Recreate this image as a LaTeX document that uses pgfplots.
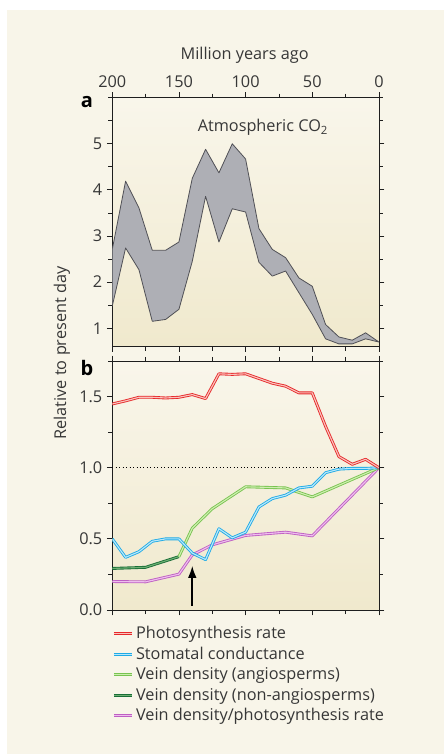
\documentclass[border=0pt]{standalone}
\usepackage{pgfplots}
\pgfplotsset{compat=1.18}
\usepackage{fontspec}
\setmainfont{Open Sans}
\usetikzlibrary{arrows.meta}

\definecolor{cream}{RGB}{248,245,233}
\definecolor{bgtop}{RGB}{249,246,235}
\definecolor{bgbot}{RGB}{240,233,205}
\definecolor{textc}{RGB}{55,55,55}
\definecolor{axisc}{RGB}{30,30,30}
\definecolor{co2fill}{RGB}{174,175,181}
\definecolor{co2edge}{RGB}{80,80,86}
\definecolor{redo}{RGB}{230,40,42}
\definecolor{redi}{RGB}{250,195,188}
\definecolor{blueo}{RGB}{30,170,230}
\definecolor{bluei}{RGB}{185,232,250}
\definecolor{lgreeno}{RGB}{120,195,80}
\definecolor{lgreeni}{RGB}{205,238,175}
\definecolor{dgreeno}{RGB}{25,110,55}
\definecolor{dgreeni}{RGB}{110,175,115}
\definecolor{pinko}{RGB}{190,95,195}
\definecolor{pinki}{RGB}{238,190,238}

\newcommand{\lfont}{\fontsize{12.2}{14.4}\selectfont}

\pgfplotsset{
  dbl/.style 2 args={draw=#1, double=#2, line width=0.65pt, double distance=0.85pt, line join=round, no marks},
  panel/.style={
    scale only axis, width=200pt, height=186.75pt,
    anchor=south west,
    xmin=0, xmax=200, x dir=reverse,
    xtick={0,50,100,150,200},
    minor xtick={25,75,125,175},
    tick align=outside,
    major tick length=4pt, minor tick length=3pt,
    axis line style={line width=0.6pt, draw=axisc},
    tick style={line width=0.6pt, draw=axisc},
    tick label style={font=\lfont, text=textc},
    axis background/.style={top color=bgtop, bottom color=bgbot},
  },
}

\begin{document}
\begin{tikzpicture}[font=\lfont]
\path[use as bounding box] (0,0) rectangle (333pt,565.5pt);
\fill[white] (0,0) rectangle (333pt,565.5pt);
\fill[cream] (5.25pt,0) rectangle (333pt,558pt);

% Panel a
\begin{axis}[panel, at={(84.2pt,305.5pt)},
  ymin=0.6, ymax=6,
  ytick={1,2,3,4,5}, yticklabels={1,2,3,4,5},
  minor ytick={1.5,2.5,3.5,4.5,5.5,6},
  xticklabel pos=upper,
  xticklabels={0,50,100,150,200},
]
\addplot[fill=co2fill, draw=co2edge, line width=0.6pt, line join=round] coordinates {
 (200,2.71) (190,4.19) (180,3.61) (170,2.69) (160,2.69) (150,2.87) (140,4.25)
 (130,4.88) (120,4.37) (110,5.00) (100,4.67) (90,3.16) (80,2.71) (70,2.53)
 (60,2.09) (50,1.91) (40,1.08) (30,0.81) (20,0.74) (10,0.90) (0,0.70)
 (10,0.77) (20,0.66) (30,0.66) (40,0.77) (50,1.30) (60,1.77) (70,2.24)
 (80,2.13) (90,2.43) (100,3.52) (110,3.59) (120,2.87) (130,3.86) (140,2.45)
 (150,1.41) (160,1.19) (170,1.15) (180,2.27) (190,2.74) (200,1.48)
} -- cycle;
\node[text=textc] at (axis cs:87,5.35) {Atmospheric CO\textsubscript{2}};
\end{axis}

% Panel b
\begin{axis}[panel, at={(84.2pt,108pt)},
  ymin=0, ymax=1.75,
  ytick={0,0.5,1,1.5}, yticklabels={0.0,0.5,1.0,1.5},
  minor ytick={0.25,0.75,1.25,1.75},
  xticklabels={},
  legend style={at={(0,-0.055)}, anchor=north west, draw=none, fill=none,
    inner sep=0pt, font=\lfont, text=textc, cells={anchor=west}, row sep=0.6pt},
  legend image code/.code={\draw[#1] (0pt,0pt) -- (13.5pt,0pt);},
  reverse legend,
]
\addplot[black, dotted, line width=0.6pt, forget plot] coordinates {(200,1) (0,1)};
\addplot[dbl={pinko}{pinki}] coordinates {
 (200,0.20) (175,0.198) (150,0.252) (140,0.387) (125,0.458) (100,0.524)
 (70,0.547) (50,0.521) (0,1.0)};
\addlegendentry{Vein density/photosynthesis rate}
\addplot[dbl={dgreeno}{dgreeni}] coordinates {
 (200,0.292) (175,0.30) (150,0.375)};
\addlegendentry{Vein density (non-angiosperms)}
\addplot[dbl={lgreeno}{lgreeni}] coordinates {
 (150,0.375) (140,0.575) (125,0.712) (100,0.866) (70,0.858) (50,0.795) (0,1.0)};
\addlegendentry{Vein density (angiosperms)}
\addplot[dbl={blueo}{bluei}] coordinates {
 (200,0.50) (190,0.37) (180,0.41) (170,0.483) (160,0.50) (150,0.50) (140,0.40)
 (130,0.354) (120,0.571) (110,0.507) (100,0.547) (90,0.724) (80,0.783)
 (70,0.807) (60,0.858) (50,0.87) (40,0.965) (30,0.99) (20,0.995) (10,0.995) (0,1.0)};
\addlegendentry{Stomatal conductance}
\addplot[dbl={redo}{redi}] coordinates {
 (200,1.448) (190,1.47) (180,1.495) (170,1.495) (160,1.49) (150,1.495) (140,1.514)
 (130,1.486) (120,1.66) (110,1.656) (100,1.66) (90,1.627) (80,1.594) (70,1.573)
 (60,1.526) (50,1.526) (40,1.29) (30,1.078) (20,1.024) (10,1.059) (0,1.0)};
\addlegendentry{Photosynthesis rate}
\addplot[black, line width=1.2pt, forget plot, -{Latex[length=9pt,width=6.5pt]}]
 coordinates {(140,0.03) (140,0.31)};
\end{axis}

% Labels
\node[text=textc] at (183.5pt,523.7pt) {Million years ago};
\node[text=textc, rotate=90] at (46.5pt,300.75pt) {Relative to present day};
\node[text=black, font=\fontsize{15}{17}\selectfont\bfseries] at (65.25pt,489pt) {a};
\node[text=black, font=\fontsize{15}{17}\selectfont\bfseries] at (65.25pt,289.5pt) {b};
\end{tikzpicture}
\end{document}
